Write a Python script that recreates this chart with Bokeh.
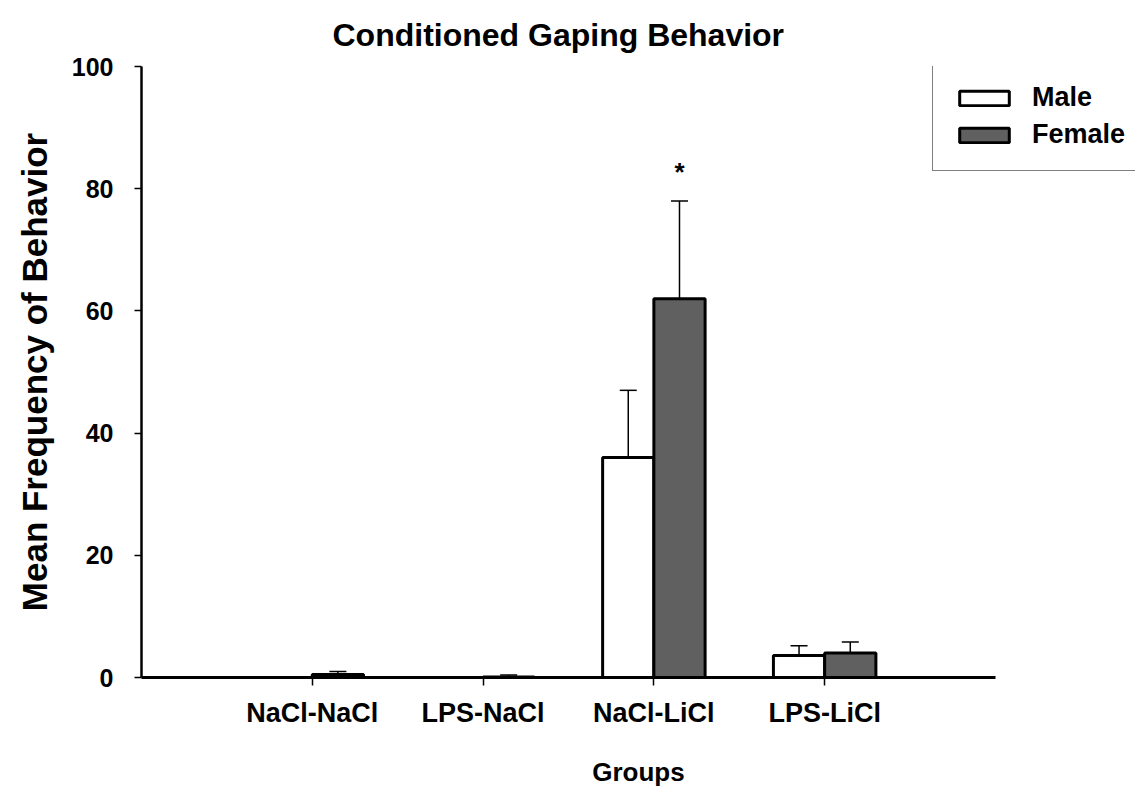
from bokeh.plotting import figure
from bokeh.models import ColumnDataSource, Range1d, FixedTicker, Whisker, TeeHead, Legend, LegendItem
from bokeh.embed import file_html
from bokeh.resources import INLINE
from bokeh.core.properties import value

groups = ["NaCl-NaCl", "LPS-NaCl", "NaCl-LiCl", "LPS-LiCl"]
male_mean = [0.0, 0.0, 36.0, 3.6]
male_sem = [0.0, 0.0, 11.0, 1.6]
female_mean = [0.5, 0.1, 62.0, 4.0]
female_sem = [0.5, 0.3, 16.0, 1.8]
male_color = "#ffffff"
female_color = "#606060"

FONT = "Liberation Sans"
pos = [i + 1 for i in range(len(groups))]

p = figure(width=1135, height=789, output_backend="svg", toolbar_location=None,
           x_range=Range1d(0, 5.82), y_range=Range1d(0, 100),
           min_border_left=141, min_border_right=0, min_border_top=66, min_border_bottom=111)
p.outline_line_color = None
p.xgrid.grid_line_color = None
p.ygrid.grid_line_color = None

p.title.text = "Conditioned Gaping Behavior"
p.title.align = "left"
p.title.offset = 191
p.title.text_font = FONT
p.title.text_font_size = "32px"
p.title.text_font_style = "bold"
p.title.text_color = "black"
p.title.standoff = 27

male_src = ColumnDataSource(dict(x=[x - 0.15 for x in pos], top=male_mean,
                                 up=[m + s for m, s in zip(male_mean, male_sem)]))
female_src = ColumnDataSource(dict(x=[x + 0.15 for x in pos], top=female_mean,
                                   up=[m + s for m, s in zip(female_mean, female_sem)]))

for src in (male_src, female_src):
    w = Whisker(source=src, base="x", lower="top", upper="up", dimension="height",
                line_color="black", line_width=1.5, lower_head=None,
                upper_head=TeeHead(size=17, line_color="black", line_width=1.5))
    p.add_layout(w)

mr = p.vbar(x="x", top="top", bottom=0, width=0.3, source=male_src,
            fill_color=male_color, line_color="black", line_width=3)
fr = p.vbar(x="x", top="top", bottom=0, width=0.3, source=female_src,
            fill_color=female_color, line_color="black", line_width=3)

p.text(x=[3.15], y=[82.8], text=["*"], text_font=value(FONT), text_font_style="bold",
       text_font_size="26px", text_align="center", text_baseline="middle", text_color="black")

# axes
p.xaxis.ticker = FixedTicker(ticks=pos)
p.xaxis.bounds = (0, 5)
p.xaxis.major_label_overrides = {x: g for x, g in zip(pos, groups)}
p.xaxis.axis_line_width = 3
p.xaxis.axis_line_color = "black"
p.xaxis.major_tick_out = 8
p.xaxis.major_tick_in = 0
p.xaxis.major_tick_line_width = 1.5
p.xaxis.major_tick_line_color = "black"
p.xaxis.minor_tick_line_color = None
p.xaxis.major_label_text_font = FONT
p.xaxis.major_label_text_font_style = "bold"
p.xaxis.major_label_text_font_size = "27px"
p.xaxis.major_label_text_color = "black"
p.xaxis.major_label_standoff = 12
p.xaxis.axis_label = "Groups"
p.xaxis.axis_label_text_font = FONT
p.xaxis.axis_label_text_font_style = "bold"
p.xaxis.axis_label_text_font_size = "26px"
p.xaxis.axis_label_text_color = "black"
p.xaxis.axis_label_standoff = 26

p.yaxis.ticker = FixedTicker(ticks=[0, 20, 40, 60, 80, 100])
p.yaxis.axis_line_width = 2.5
p.yaxis.axis_line_color = "black"
p.yaxis.major_tick_out = 7
p.yaxis.major_tick_in = 0
p.yaxis.major_tick_line_width = 1.5
p.yaxis.major_tick_line_color = "black"
p.yaxis.minor_tick_line_color = None
p.yaxis.major_label_text_font = FONT
p.yaxis.major_label_text_font_style = "bold"
p.yaxis.major_label_text_font_size = "25px"
p.yaxis.major_label_text_color = "black"
p.yaxis.major_label_standoff = 21
p.yaxis.axis_label = "Mean Frequency of Behavior"
p.yaxis.axis_label_text_font = FONT
p.yaxis.axis_label_text_font_style = "bold"
p.yaxis.axis_label_text_font_size = "35px"
p.yaxis.axis_label_text_color = "black"
p.yaxis.axis_label_standoff = 15

legend = Legend(items=[LegendItem(label="Male", renderers=[mr]),
                       LegendItem(label="Female", renderers=[fr])],
                location=(791, 506))
legend.label_text_font = FONT
legend.label_text_font_style = "bold"
legend.label_text_font_size = "27px"
legend.label_text_color = "black"
legend.glyph_width = 62
legend.glyph_height = 18
legend.spacing = 6
legend.padding = 20
legend.margin = 0
legend.label_standoff = 17
legend.border_line_color = "black"
legend.border_line_width = 1.5
legend.background_fill_alpha = 1
p.add_layout(legend, "center")

open("out.html", "w").write(file_html(p, INLINE))
